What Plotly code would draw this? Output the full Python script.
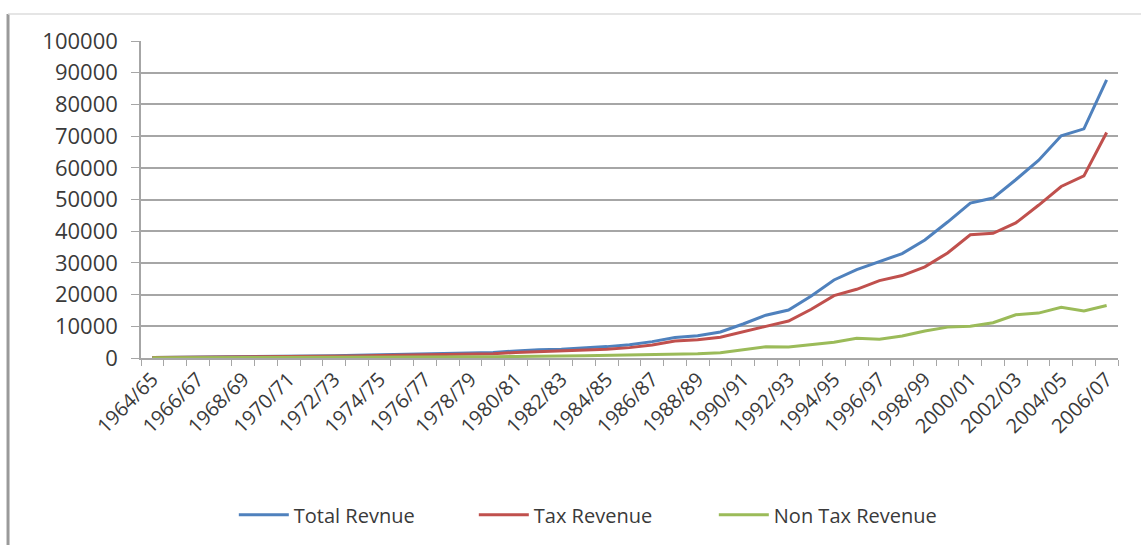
import plotly.graph_objects as go

years = [
    "1964/65", "1965/66", "1966/67", "1967/68", "1968/69", "1969/70", "1970/71",
    "1971/72", "1972/73", "1973/74", "1974/75", "1975/76", "1976/77", "1977/78",
    "1978/79", "1979/80", "1980/81", "1981/82", "1982/83", "1983/84", "1984/85",
    "1985/86", "1986/87", "1987/88", "1988/89", "1989/90", "1990/91", "1991/92",
    "1992/93", "1993/94", "1994/95", "1995/96", "1996/97", "1997/98", "1998/99",
    "1999/00", "2000/01", "2001/02", "2002/03", "2003/04", "2004/05", "2005/06",
    "2006/07",
]

total_revenue = [
    190, 230, 265, 300, 390, 480, 530, 600, 680, 840, 1010, 1150, 1300, 1550,
    1710, 1760, 2220, 2640, 2770, 3100, 3590, 4180, 5160, 6490, 7050, 8200,
    10730, 13510, 15150, 19580, 24610, 27890, 30370, 32940, 37250, 42890,
    48890, 50450, 56230, 62330, 70120, 72280, 87710,
]

tax_revenue = [
    130, 160, 190, 220, 290, 360, 400, 460, 510, 640, 790, 890, 1000, 1200,
    1310, 1350, 1720, 1950, 2100, 2420, 2780, 3270, 4130, 5360, 5740, 6570,
    8180, 9980, 11660, 15370, 19660, 21670, 24420, 26000, 28750, 33150,
    38870, 39330, 42590, 48170, 54100, 57430, 71130,
]

non_tax_revenue = [
    60, 70, 75, 80, 100, 120, 130, 140, 170, 200, 220, 260, 300, 350,
    400, 410, 500, 690, 670, 680, 810, 910, 1030, 1130, 1310, 1630,
    2550, 3530, 3490, 4210, 4950, 6220, 5950, 6940, 8500, 9740,
    10020, 11120, 13640, 14160, 16020, 14850, 16580,
]

series = [
    ("Total Revnue", total_revenue, "#4F81BD"),
    ("Tax Revenue", tax_revenue, "#C0504D"),
    ("Non Tax Revenue", non_tax_revenue, "#9BBB59"),
]

FONT = "Open Sans"
TEXT = "#3a3a3a"
GRID = "#a6a6a6"

fig = go.Figure()
for name, vals, color in series:
    fig.add_trace(go.Scatter(
        x=years, y=vals, name=name, mode="lines",
        line=dict(color=color, width=3),
    ))

# label every other fiscal year, tick marks on every category boundary
tick_text = [y if i % 2 == 0 else "" for i, y in enumerate(years)]

fig.update_layout(
    width=1141, height=545,
    margin=dict(l=141, r=23, t=41, b=186),
    paper_bgcolor="white", plot_bgcolor="white",
    font=dict(family=FONT, color=TEXT),
    showlegend=True,
    legend=dict(
        orientation="h", x=0.095, xanchor="left", y=-0.49, yanchor="middle",
        font=dict(family=FONT, size=20, color=TEXT),
        itemwidth=50, tracegroupgap=0,
        entrywidth=175, entrywidthmode="pixels",
    ),
    xaxis=dict(
        type="category", tickmode="array", tickvals=years, ticktext=tick_text,
        tickson="boundaries", ticks="outside", ticklen=6, tickcolor=GRID,
        tickangle=-45, tickfont=dict(family=FONT, size=20, color=TEXT),
        showline=True, linecolor=GRID, linewidth=1.5,
        showgrid=False, range=[-0.5, len(years) - 0.5],
    ),
    yaxis=dict(
        range=[0, 100000], tickmode="linear", tick0=0, dtick=10000,
        tickformat="d", ticks="outside", ticklen=8, tickcolor=GRID,
        tickfont=dict(family=FONT, size=22, color=TEXT),
        ticklabelstandoff=9,
        showline=True, linecolor=GRID, linewidth=1.5,
        showgrid=True, gridcolor=GRID, gridwidth=1.5,
        zeroline=False,
    ),
)

# chart frame: heavy left edge and thin top edge
fig.add_shape(type="line", xref="paper", yref="paper",
              x0=-0.1361, x1=-0.1361, y0=1.085, y1=-0.6,
              line=dict(color="#9a9a9a", width=3))
fig.add_shape(type="line", xref="paper", yref="paper",
              x0=-0.1361, x1=1.03, y0=1.085, y1=1.085,
              line=dict(color="#dcdcdc", width=1.5))

fig.write_html("out.html")
